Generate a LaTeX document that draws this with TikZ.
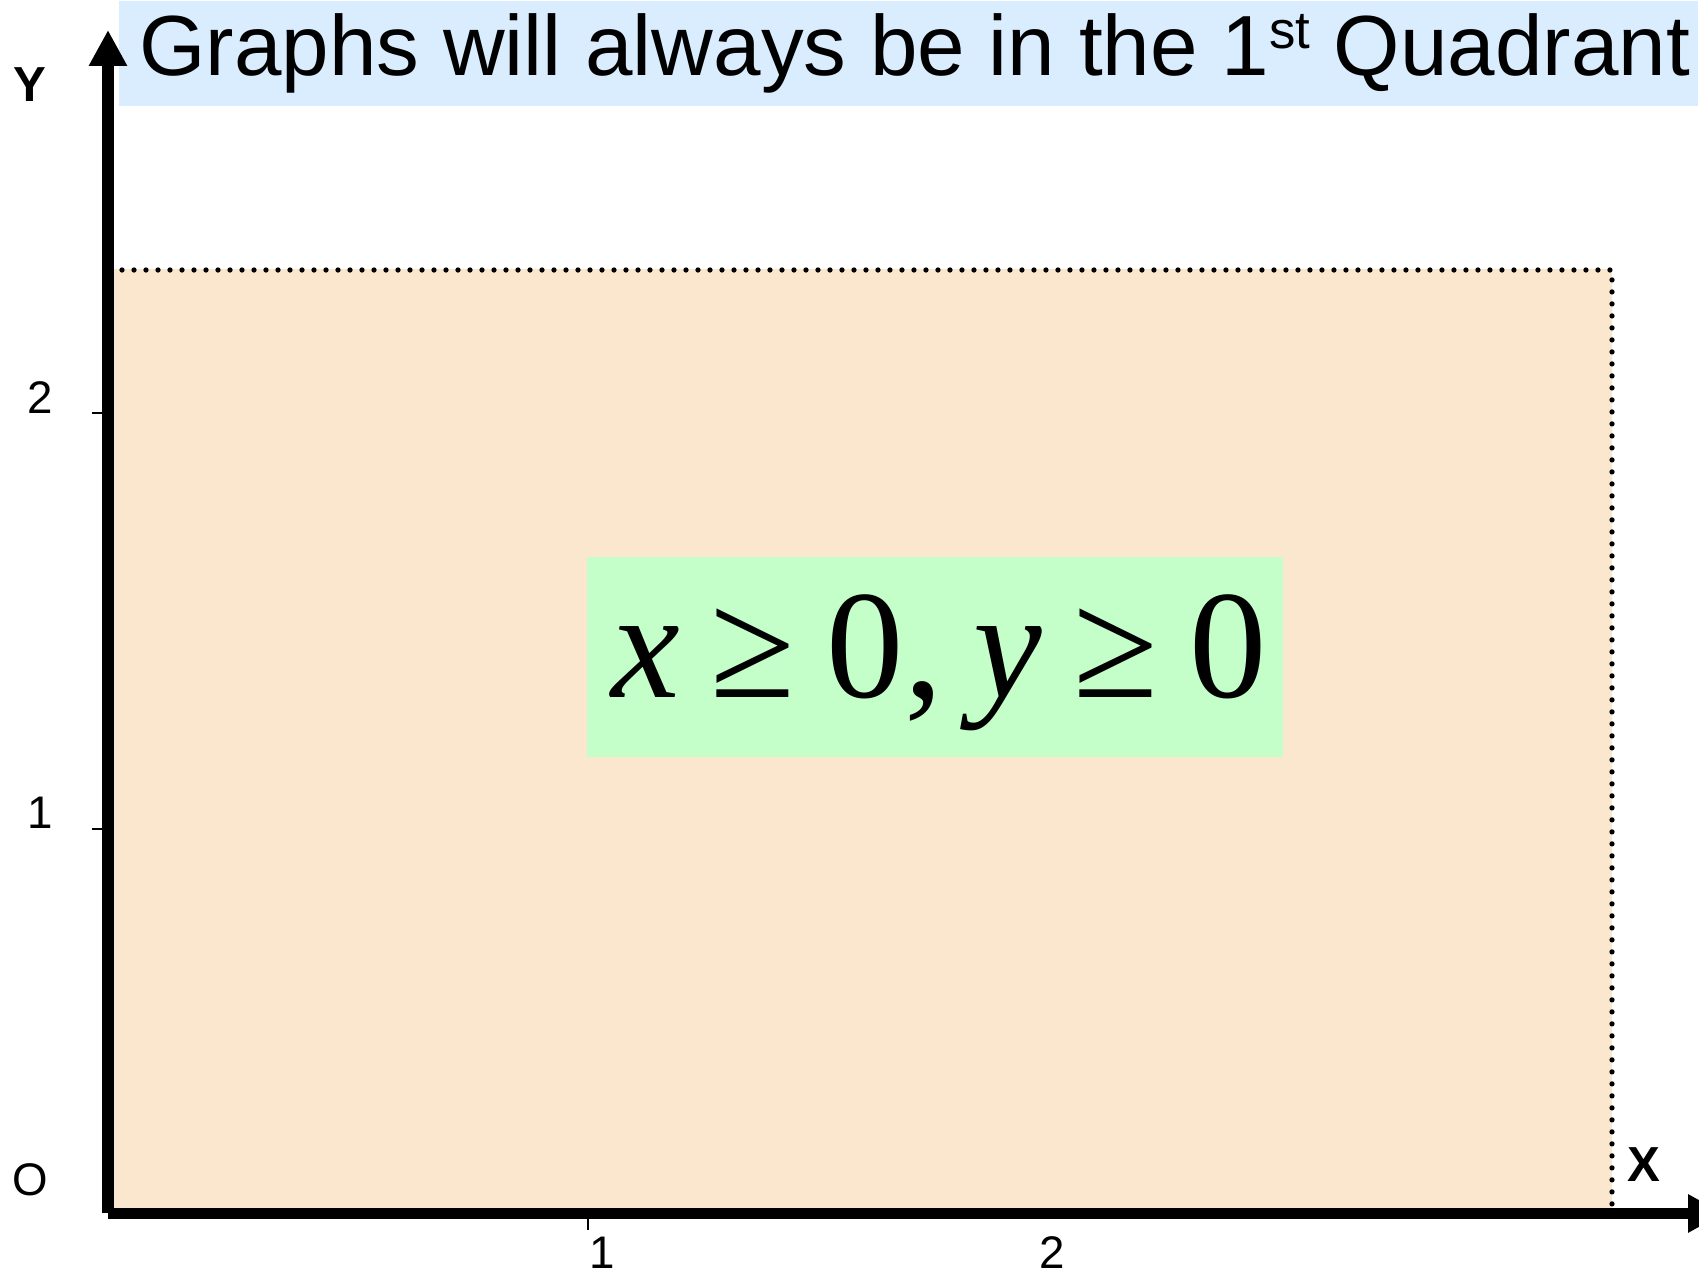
\documentclass[tikz,border=0pt]{standalone}
\usepackage{fontspec}
\setmainfont{Liberation Sans}
\newfontfamily\timesfont{Liberation Serif}
\usetikzlibrary{arrows.meta}
\definecolor{titleblue}{HTML}{D9EDFE}
\definecolor{regionpeach}{HTML}{FBE6CE}
\definecolor{boxgreen}{HTML}{C4FFCA}
\tikzset{
  axisline/.style={line width=3.4pt,-{Triangle[length=.36cm,width=.36cm]}},
  tickmark/.style={line width=.8pt},
  ticklabel/.style={font=\fontsize{13}{13}\selectfont,inner sep=0pt},
  axislabel/.style={font=\fontsize{14}{14}\selectfont\bfseries,inner sep=0pt},
  boundary/.style={line width=1.5pt,dash pattern=on 0pt off .12cm,line cap=round},
  titlebox/.style={fill=titleblue,anchor=north east,minimum width=15.79cm,minimum height=1.05cm,inner sep=0pt,font=\fontsize{24.3}{24.3}\selectfont},
  condbox/.style={fill=boxgreen,minimum width=6.96cm,minimum height=2cm,inner sep=0pt,font=\timesfont\fontsize{44}{44}\selectfont},
}
\newcommand{\relgap}{\hspace{.31cm}}

\begin{document}
\begin{tikzpicture}
			\clip (0,0) rectangle (16.99,12.75);
			% feasible region
			\fill[regionpeach] (1.14,.615) rectangle (16.12,10.06);
			\draw[boundary] (1.22,10.05) -- (16.12,10.05) -- (16.12,.68);
			\node[titlebox] (title) at (16.99,12.75) {\hspace*{.12cm}Graphs will always be in the 1\raisebox{7.5pt}{\fontsize{15}{15}\selectfont st} Quadrant};
			\node[condbox] (cond) at (9.35,6.18) {\raisebox{-.055cm}[\height][\depth]{\hspace*{.08cm}\textit{x}\relgap≥\relgap0,\relgap\textit{y}\relgap≥\relgap0}};
			% axes
			\coordinate (O) at (1.08,.615);
			\coordinate (ytip) at (1.08,12.45);
			\coordinate (xtip) at (17.24,.615);
			\draw[axisline] (O) -- (ytip);
			\draw[axisline] (O) -- (xtip);
			\draw[tickmark] (.92,4.46) -- (1.02,4.46);
			\draw[tickmark] (.92,8.62) -- (1.02,8.62);
			\draw[tickmark] (5.88,.56) -- (5.88,.45);
			\node[ticklabel] (y1) at (.40,4.62) {1};
			\node[ticklabel] (y2) at (.40,8.77) {2};
			\node[ticklabel] (x1) at (6.02,.22) {1};
			\node[ticklabel] (x2) at (10.52,.22) {2};
			\node[ticklabel] (olab) at (.30,.95) {O};
			\node[axislabel] (ylab) at (.30,11.90) {Y};
			\node[axislabel] (xlab) at (16.44,1.10) {X};
		\end{tikzpicture}
\end{document}
